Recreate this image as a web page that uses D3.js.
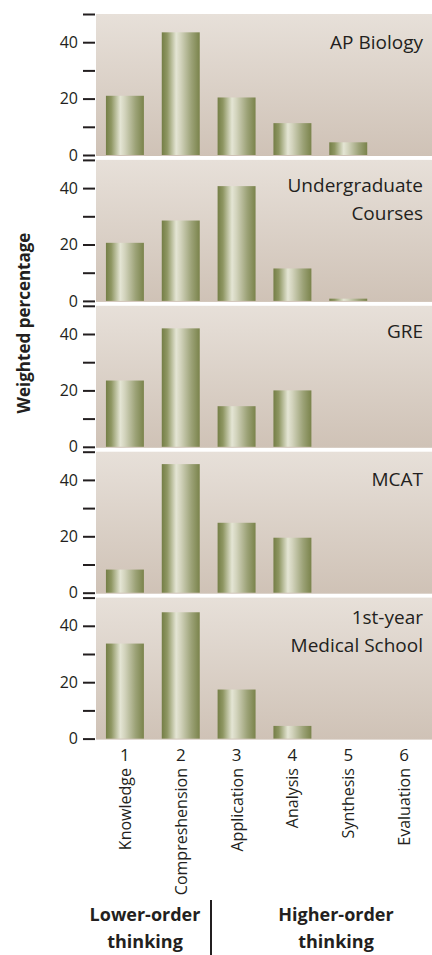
<!DOCTYPE html>
<html>
<head>
<meta charset="utf-8">
<script src="https://cdn.jsdelivr.net/npm/d3@7"></script>
<style>
  html, body { margin: 0; padding: 0; background: #ffffff; }
  svg { display: block; }
  text { font-family: "Open Sans", "Noto Sans", sans-serif; fill: #231f20; }
</style>
</head>
<body>
<svg id="chart" width="432" height="955"></svg>
<script>
// ---- data ----
const levels = ["1", "2", "3", "4", "5", "6"];
const categories = ["Knowledge", "Compreshension", "Application", "Analysis", "Synthesis", "Evaluation"];
const panelTitles = [["AP Biology"], ["Undergraduate", "Courses"], ["GRE"], ["MCAT"], ["1st-year", "Medical School"]];
const apBiology = [21, 43.5, 20.4, 11.3, 4.5, 0];
const undergraduate = [20.6, 28.5, 40.7, 11.5, 0.8, 0];
const gre = [23.5, 42, 14.4, 20, 0, 0];
const mcat = [8.2, 45.6, 24.8, 19.5, 0, 0];
const medicalSchool = [33.7, 44.8, 17.4, 4.5, 0, 0];
const yTicks = [0, 10, 20, 30, 40, 50];
const yTickLabels = ["0", "", "20", "", "40", ""];
const yTitle = "Weighted percentage";
const groupLabels = [["Lower-order", "thinking"], ["Higher-order", "thinking"]];

const series = [apBiology, undergraduate, gre, mcat, medicalSchool];

// ---- layout ----
const svg = d3.select("#chart");
const ink = "#231f20";
const panelLeft = 96, panelRight = 432;
const firstZero = 155, panelStep = 145.9, panelH = 141;
const titleOffsets = [35, 32, 32.5, 34, 26];

const x = d3.scaleBand().domain(levels).range([97, 432]).paddingInner(0.32).paddingOuter(0.16);

const defs = svg.append("defs");
const bg = defs.append("linearGradient").attr("id", "bgGrad").attr("x1", 0).attr("y1", 0).attr("x2", 0).attr("y2", 1);
bg.append("stop").attr("offset", "0%").attr("stop-color", "#e7e0d9");
bg.append("stop").attr("offset", "100%").attr("stop-color", "#cfc2b6");

const bar = defs.append("linearGradient").attr("id", "barGrad").attr("x1", 0).attr("y1", 0).attr("x2", 1).attr("y2", 0);
[["0%", "#747e46"], ["14%", "#8e9662"], ["38%", "#e4e5d4"], ["50%", "#d2d3bc"], ["78%", "#9ca277"], ["100%", "#7a834b"]]
  .forEach(([o, c]) => bar.append("stop").attr("offset", o).attr("stop-color", c));

series.forEach((vals, i) => {
  const zero = firstZero + i * panelStep;
  const y = d3.scaleLinear().domain([0, 50]).range([zero, zero - panelH]);
  const g = svg.append("g");

  g.append("rect")
    .attr("x", panelLeft).attr("y", y(50))
    .attr("width", panelRight - panelLeft).attr("height", y(0) - y(50) + 1)
    .attr("fill", "url(#bgGrad)");

  g.selectAll("rect.bar")
    .data(vals.map((v, j) => ({ v, k: levels[j] })).filter(d => d.v > 0))
    .join("rect").attr("class", "bar")
    .attr("x", d => x(d.k)).attr("width", x.bandwidth())
    .attr("y", d => y(d.v)).attr("height", d => y(0) - y(d.v))
    .attr("fill", "url(#barGrad)");

  // y axis: ticks only
  const axis = d3.axisLeft(y).tickValues(yTicks).tickSize(12).tickPadding(5)
    .tickFormat((d, k) => yTickLabels[k]);
  const ax = g.append("g").attr("transform", `translate(95,0)`).call(axis);
  ax.select(".domain").remove();
  ax.selectAll(".tick line").attr("stroke", ink).attr("stroke-width", 2);
  ax.selectAll(".tick text").attr("font-size", 16).attr("fill", ink)
    .attr("font-family", '"Open Sans", sans-serif');

  // title
  const t = g.append("text").attr("text-anchor", "end").attr("font-size", 19).attr("font-weight", 500);
  panelTitles[i].forEach((line, k) => {
    t.append("tspan").attr("x", 423).attr("y", y(50) + titleOffsets[i] + k * 28).text(line);
  });
});

// x axis labels
svg.append("g").selectAll("text.num").data(levels).join("text")
  .attr("class", "num")
  .attr("x", d => x(d) + x.bandwidth() / 2).attr("y", 761)
  .attr("text-anchor", "middle").attr("font-size", 17).text(d => d);

svg.append("g").selectAll("text.cat").data(categories).join("text")
  .attr("class", "cat")
  .attr("transform", (d, j) => `translate(${x(levels[j]) + x.bandwidth() / 2 + 6},768) rotate(-90)`)
  .attr("text-anchor", "end").attr("font-size", 16).text(d => d);

// y title
svg.append("text")
  .attr("transform", "translate(30,323) rotate(-90)")
  .attr("text-anchor", "middle").attr("font-size", 17).attr("font-weight", "bold")
  .text(yTitle);

// group labels
const groupX = [145, 336];
groupLabels.forEach((lines, i) => {
  const t = svg.append("text").attr("text-anchor", "middle").attr("font-size", 18).attr("font-weight", "bold");
  lines.forEach((line, k) => t.append("tspan").attr("x", groupX[i]).attr("y", 921 + k * 27).text(line));
});
svg.append("line").attr("x1", 211).attr("x2", 211).attr("y1", 900).attr("y2", 955)
  .attr("stroke", ink).attr("stroke-width", 2);
</script>
</body>
</html>
